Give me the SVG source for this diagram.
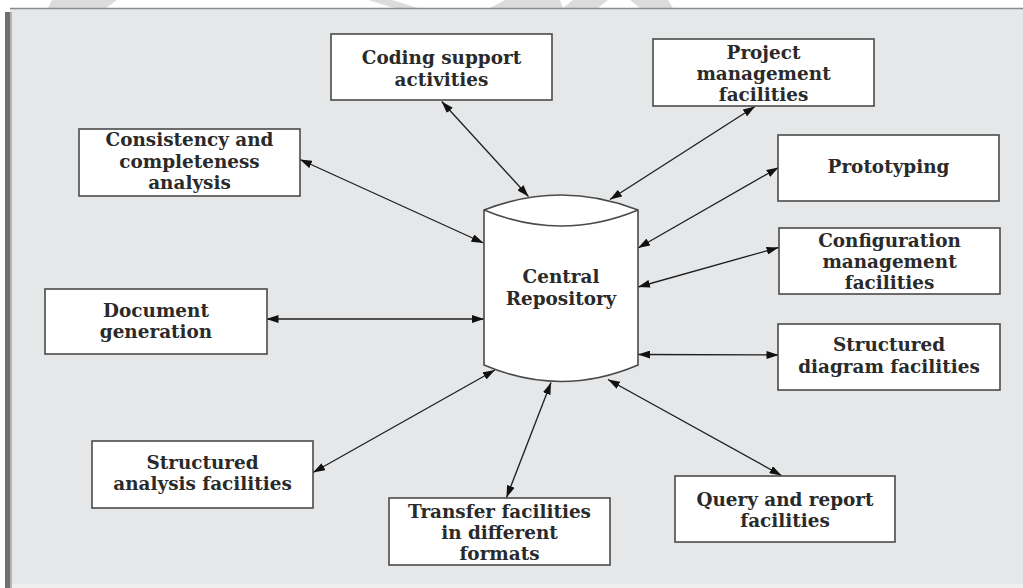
<svg xmlns="http://www.w3.org/2000/svg" width="1023" height="588" viewBox="0 0 1023 588">
<style>
.box{fill:#ffffff;stroke:#4a4a4a;stroke-width:1.6}
.t{font-family:"DejaVu Serif","Liberation Serif",serif;font-weight:bold;font-size:18.4px;fill:#2a2a2a;text-anchor:middle}
.c{stroke:#1e1e1e;stroke-width:1.3;fill:none;marker-start:url(#ah);marker-end:url(#ah)}
.wm{fill:#dcdcdc}
</style>
<defs>
<marker id="ah" viewBox="0 0 12 8" refX="12" refY="4" markerWidth="12" markerHeight="8" markerUnits="userSpaceOnUse" orient="auto-start-reverse">
<path d="M0,0 L12,4 L0,8 z" fill="#111"/>
</marker>
</defs>
<rect x="0" y="0" width="1023" height="588" fill="#ffffff"/>
<g id="watermark">
<polygon class="wm" points="52,0 117,0 106,8 48,8"/>
<polygon class="wm" points="368,0 392,0 418,8 394,8"/>
<polygon class="wm" points="490,8 505,0 560,0 563,8"/>
<polygon class="wm" points="573,0 608,0 598,8 563,8"/>
<polygon class="wm" points="630,0 668,0 673,8 640,8"/>
</g>
<g id="panel">
<rect x="10" y="9" width="1013" height="575" fill="#e6e7e9"/>
<line x1="10" y1="8.5" x2="1023" y2="8.5" stroke="#8a8a8a" stroke-width="1.5"/>
<rect x="5" y="12" width="5" height="576" fill="#707070"/>
<rect x="10" y="12" width="2" height="576" fill="#b5b5b5"/>
<rect x="12" y="584" width="1011" height="4" fill="#efefef"/>
</g>
<g id="connectors">
<line class="c" x1="441.7" y1="101.5" x2="528.5" y2="196.5"/>
<line class="c" x1="755" y1="106.5" x2="610" y2="199.5"/>
<line class="c" x1="300" y1="159.5" x2="483.5" y2="243"/>
<line class="c" x1="778.5" y1="167.5" x2="638" y2="248"/>
<line class="c" x1="778.5" y1="247.5" x2="638" y2="287"/>
<line class="c" x1="266.5" y1="319" x2="484" y2="319"/>
<line class="c" x1="778.5" y1="355" x2="638" y2="354.5"/>
<line class="c" x1="313" y1="472.5" x2="495" y2="370"/>
<line class="c" x1="506.5" y1="497.5" x2="551" y2="382.5"/>
<line class="c" x1="781.5" y1="475.5" x2="608" y2="379.5"/>
</g>
<g id="central-repository">
<path d="M484,210 Q561,180 638,210 L638,365 Q561,398 484,365 Z" fill="#ffffff" stroke="#4a4a4a" stroke-width="1.6"/>
<path d="M484,210 Q561,242 638,210" fill="none" stroke="#4a4a4a" stroke-width="1.6"/>
<text class="t" x="561" y="283">Central</text>
<text class="t" x="561" y="304.5">Repository</text>
</g>
<g id="coding-support">
<rect class="box" x="331" y="34" width="221" height="66"/>
<text class="t" x="441.5" y="64">Coding support</text>
<text class="t" x="441.5" y="86">activities</text>
</g>
<g id="project-management">
<rect class="box" x="653" y="39" width="221" height="67"/>
<text class="t" x="763.5" y="59">Project</text>
<text class="t" x="763.5" y="80">management</text>
<text class="t" x="763.5" y="100.5">facilities</text>
</g>
<g id="prototyping">
<rect class="box" x="778" y="135" width="221" height="66"/>
<text class="t" x="888.5" y="173">Prototyping</text>
</g>
<g id="configuration-management">
<rect class="box" x="779" y="228" width="221" height="66"/>
<text class="t" x="889.5" y="246.5">Configuration</text>
<text class="t" x="889.5" y="267.5">management</text>
<text class="t" x="889.5" y="289">facilities</text>
</g>
<g id="structured-diagram">
<rect class="box" x="778" y="324" width="222" height="66"/>
<text class="t" x="889" y="351">Structured</text>
<text class="t" x="889" y="372.5">diagram facilities</text>
</g>
<g id="query-report">
<rect class="box" x="675" y="476" width="220" height="66"/>
<text class="t" x="785" y="506">Query and report</text>
<text class="t" x="785" y="527">facilities</text>
</g>
<g id="transfer-facilities">
<rect class="box" x="389" y="498" width="221" height="67"/>
<text class="t" x="499.5" y="517.5">Transfer facilities</text>
<text class="t" x="499.5" y="538.5">in different</text>
<text class="t" x="499.5" y="560">formats</text>
</g>
<g id="structured-analysis">
<rect class="box" x="92" y="441" width="221" height="67"/>
<text class="t" x="202.5" y="468.5">Structured</text>
<text class="t" x="202.5" y="490">analysis facilities</text>
</g>
<g id="document-generation">
<rect class="box" x="45" y="289" width="222" height="65"/>
<text class="t" x="156" y="316.5">Document</text>
<text class="t" x="156" y="338">generation</text>
</g>
<g id="consistency-completeness">
<rect class="box" x="79" y="129" width="221" height="67"/>
<text class="t" x="189.5" y="146">Consistency and</text>
<text class="t" x="189.5" y="168">completeness</text>
<text class="t" x="189.5" y="189">analysis</text>
</g>
</svg>
